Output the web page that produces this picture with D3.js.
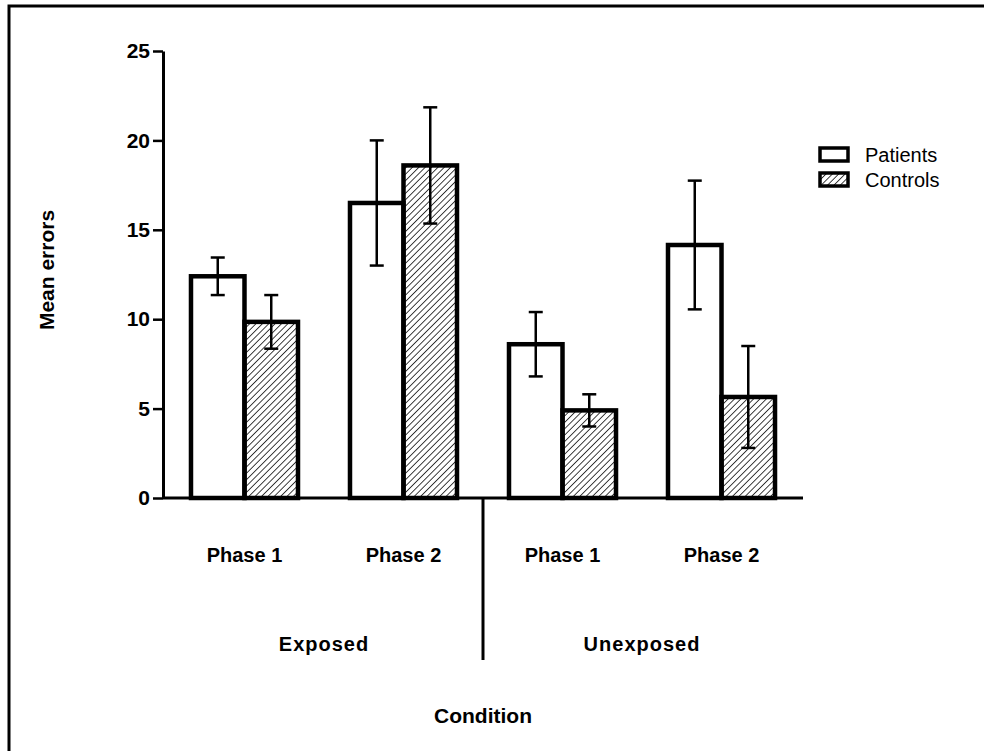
<!DOCTYPE html>
<html>
<head>
<meta charset="utf-8">
<script src="https://cdn.jsdelivr.net/npm/d3@7"></script>
<style>
body { margin: 0; background: #fff; overflow: hidden; }
text { font-family: "Liberation Sans", Arial, sans-serif; }
</style>
</head>
<body>
<div id="chart"></div>
<script>
var width = 984;
var height = 751;

// data
var conditions = ["Exposed", "Exposed", "Unexposed", "Unexposed"];
var phases = ["Phase 1", "Phase 2", "Phase 1", "Phase 2"];
var groups = ["Exposed Phase 1", "Exposed Phase 2", "Unexposed Phase 1", "Unexposed Phase 2"];
var series = ["Patients", "Controls"];
var patientMeans = [12.4, 16.5, 8.6, 14.15];
var patientErr = [1.05, 3.5, 1.8, 3.6];
var controlMeans = [9.85, 18.6, 4.9, 5.65];
var controlErr = [1.5, 3.25, 0.9, 2.85];
var yTicks = [0, 5, 10, 15, 20, 25];

var svg = d3.select("#chart").append("svg")
    .attr("width", width)
    .attr("height", height)
    .style("display", "block");

// hatch for controls
var defs = svg.append("defs");
defs.append("pattern")
    .attr("id", "hatch")
    .attr("patternUnits", "userSpaceOnUse")
    .attr("width", 4.5)
    .attr("height", 4.5)
    .attr("patternTransform", "rotate(45)")
    .append("line")
    .attr("x1", 0).attr("y1", 0)
    .attr("x2", 0).attr("y2", 4.5)
    .attr("stroke", "#000")
    .attr("stroke-width", 1.5);

// frame: only the top and left edges show
svg.append("path")
    .attr("d", "M9," + height + "V6H" + width)
    .attr("fill", "none")
    .attr("stroke", "#000")
    .attr("stroke-width", 3);

var x = d3.scaleBand()
    .domain(groups)
    .range([163, 803])
    .paddingInner(0.327)
    .paddingOuter(0.176);

var xs = d3.scaleBand()
    .domain(series)
    .range([0, x.bandwidth()]);

var y = d3.scaleLinear()
    .domain([0, 25])
    .range([498, 51]);

var rows = [];
groups.forEach(function(g, i) {
    rows.push({group: g, key: "Patients", mean: patientMeans[i], err: patientErr[i]});
    rows.push({group: g, key: "Controls", mean: controlMeans[i], err: controlErr[i]});
});

// bars
svg.selectAll("rect.bar")
    .data(rows)
    .enter().append("rect")
    .attr("class", "bar")
    .attr("x", function(d) { return x(d.group) + xs(d.key); })
    .attr("y", function(d) { return y(d.mean); })
    .attr("width", xs.bandwidth())
    .attr("height", function(d) { return y(0) - y(d.mean); })
    .attr("fill", function(d) { return d.key == "Controls" ? "url(#hatch)" : "#fff"; })
    .attr("stroke", "#000")
    .attr("stroke-width", 4.5);

// error bars
var eb = svg.selectAll("g.err")
    .data(rows)
    .enter().append("g")
    .attr("class", "err")
    .attr("stroke", "#000")
    .attr("stroke-width", 2.5);

eb.append("line")
    .attr("x1", function(d) { return x(d.group) + xs(d.key) + xs.bandwidth() / 2; })
    .attr("x2", function(d) { return x(d.group) + xs(d.key) + xs.bandwidth() / 2; })
    .attr("y1", function(d) { return y(d.mean + d.err); })
    .attr("y2", function(d) { return y(d.mean - d.err); });
eb.each(function(d) {
    var cx = x(d.group) + xs(d.key) + xs.bandwidth() / 2;
    var g = d3.select(this);
    [d.mean + d.err, d.mean - d.err].forEach(function(v) {
        g.append("line")
            .attr("x1", cx - 7).attr("x2", cx + 7)
            .attr("y1", y(v)).attr("y2", y(v));
    });
});

// y axis
var yAxis = svg.append("g")
    .attr("transform", "translate(163,0)")
    .call(d3.axisLeft(y).tickValues(yTicks).tickSize(10).tickPadding(3).tickSizeOuter(0));
yAxis.attr("font-size", 21).attr("font-family", "Liberation Sans, Arial, sans-serif");
yAxis.select(".domain").attr("stroke-width", 3);
yAxis.selectAll(".tick line").attr("stroke-width", 2.5);
yAxis.selectAll(".tick text")
    .attr("font-weight", "bold")
    .attr("fill", "#000");

// x axis line
svg.append("line")
    .attr("x1", 163).attr("x2", 803)
    .attr("y1", y(0)).attr("y2", y(0))
    .attr("stroke", "#000")
    .attr("stroke-width", 3);

// phase labels
svg.selectAll("text.phase")
    .data(groups)
    .enter().append("text")
    .attr("class", "phase")
    .attr("x", function(d) { return x(d) + x.bandwidth() / 2; })
    .attr("y", 562)
    .attr("text-anchor", "middle")
    .attr("font-size", 20)
    .attr("font-weight", "bold")
    .text(function(d, i) { return phases[i]; });

// divider between conditions
var divX = (x(groups[1]) + x.bandwidth() + x(groups[2])) / 2;
svg.append("line")
    .attr("x1", divX).attr("x2", divX)
    .attr("y1", y(0)).attr("y2", 660)
    .attr("stroke", "#000")
    .attr("stroke-width", 3);

// condition labels
var condNames = ["Exposed", "Unexposed"];
svg.selectAll("text.cond")
    .data(condNames)
    .enter().append("text")
    .attr("class", "cond")
    .attr("x", function(d) {
        var idx = conditions.indexOf(d);
        return (x(groups[idx]) + x(groups[idx + 1]) + x.bandwidth()) / 2;
    })
    .attr("y", 651)
    .attr("text-anchor", "middle")
    .attr("font-size", 20)
    .attr("font-weight", "bold")
    .attr("letter-spacing", 1)
    .text(function(d) { return d; });

svg.append("text")
    .attr("x", divX)
    .attr("y", 723)
    .attr("text-anchor", "middle")
    .attr("font-size", 21)
    .attr("font-weight", "bold")
    .text("Condition");

svg.append("text")
    .attr("transform", "translate(54,270) rotate(-90)")
    .attr("text-anchor", "middle")
    .attr("font-size", 21)
    .attr("font-weight", "bold")
    .text("Mean errors");

// legend
var legend = svg.selectAll("g.legend")
    .data(series)
    .enter().append("g")
    .attr("class", "legend")
    .attr("transform", function(d, i) { return "translate(820," + (148 + i * 25) + ")"; });
legend.append("rect")
    .attr("width", 28).attr("height", 13)
    .attr("fill", function(d) { return d == "Controls" ? "url(#hatch)" : "#fff"; })
    .attr("stroke", "#000")
    .attr("stroke-width", 3.5);
legend.append("text")
    .attr("x", 45)
    .attr("y", 14)
    .attr("font-size", 20)
    .text(function(d) { return d; });
</script>
</body>
</html>
